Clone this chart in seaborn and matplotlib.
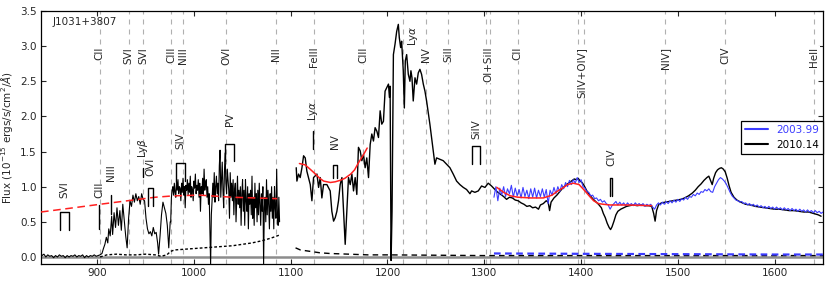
import numpy as np
import pandas as pd
import seaborn as sns
import matplotlib
matplotlib.use("Agg")
import matplotlib.pyplot as plt

# ---- data ----
# black spectrum (2010.14), far-UV part: sparse part up to 975.5 A ...
wave_a1 = [842, 843, 845, 847, 849, 851, 853, 855, 857, 859, 861, 863, 865, 867, 869, 871, 873, 875,
           877, 879, 881, 883, 885, 887, 889, 891, 893, 895, 897, 899, 901, 903, 905, 906.5, 908, 909.5,
           911, 912, 913.5, 915, 916, 917.5, 919, 920.5, 922, 923.5, 925, 926.5, 928, 929.5, 931, 932.5,
           934, 935.5, 937, 938.5, 940, 941.5, 943, 944.5, 946, 947.5, 949, 950.5, 952, 953.5, 955, 956.5,
           958, 959.5, 961, 962.5, 963.5, 965, 966.5, 968, 969.5, 971, 972.5, 974, 975.5]
flux_a1 = [0.05, 0.02, 0.04, 0.00, 0.03, 0.01, 0.02, -0.01, 0.02, 0.00, 0.03, 0.01, 0.02, -0.01, 0.02,
           0.00, 0.02, 0.01, 0.03, 0.00, 0.02, 0.01, 0.03, -0.01, 0.02, 0.00, 0.02, 0.01, 0.03, 0.01,
           0.02, 0.03, 0.05, 0.12, 0.18, 0.28, 0.20, 0.40, 0.30, 0.58, 0.32, 0.63, 0.42, 0.70, 0.45, 0.66,
           0.38, 0.75, 0.52, 0.30, 0.13, 0.55, 0.80, 0.72, 0.88, 0.78, 0.90, 0.80, 0.86, 0.75, 0.90, 0.82,
           0.80, 0.55, 0.40, 0.33, 0.36, 0.30, 0.42, 0.33, 0.35, 0.20, 0.04, 0.30, 0.60, 0.78, 0.70, 0.62,
           0.45, 0.13, 0.50]
# ... and the dense forest, sampled every 0.75 A from 976 A
wave_a2 = list(np.arange(976.0, 1088.6, 0.75))
flux_a2 = [0.50, 0.85, 0.95, 1.00, 0.88, 1.05, 0.92, 0.85, 1.08, 0.95, 1.10, 0.90, 1.00, 0.98, 0.80,
           1.05, 0.92, 1.12, 0.88, 1.00,
           0.70, 1.02, 0.95, 1.10, 0.88, 1.05, 0.92, 1.15, 0.85, 1.00, 0.95, 0.80, 1.08, 0.98, 1.18,
           0.90, 1.02, 0.95, 1.10, 0.85,
           1.05, 0.65, 1.00, 0.90, 1.12, 0.88, 1.25, 0.95, 1.05, 1.10, 0.85, 1.00, 0.75, 0.90, 0.40,
           -0.10, 0.60, 0.80, 1.05, 0.85,
           1.20, 0.78, 1.00, 1.15, 0.90, 1.05, 0.80, 1.30, 1.52, 0.85, 1.10, 1.35, 0.95, 0.70, 1.20,
           1.48, 1.05, 0.90, 1.25, 1.10,
           0.95, 0.55, 1.20, 0.85, 1.05, 0.80, 1.10, 0.60, 0.95, 1.05, 0.50, 0.85, 1.15, 0.75, 0.95,
           0.70, 1.00, 0.45, 0.90, 1.10,
           0.65, 0.95, 0.45, 1.10, 0.80, 0.65, 1.00, 0.40, 0.90, 0.75, 0.95, 0.60, 1.15, 0.55, 0.85,
           0.45, 1.05, 0.70, 0.90, 0.50,
           0.95, 0.60, 1.05, 0.75, 0.45, 0.90, 0.65, 1.00, -0.10, 0.70, 0.85, 0.50, 1.10, 0.60, 0.95,
           0.75, 0.40, 0.90, 0.65, 1.00,
           0.55, 0.85, 0.40, 1.00, 0.70, 0.55, 1.25, 0.60, 0.45, 0.85, 0.50]

# black spectrum, Ly-alpha and longward
wave_b = [1105.7, 1106.4, 1108.1, 1109.8, 1111.6, 1113.3, 1115.0, 1116.7, 1120.2, 1121.9, 1123.6,
          1127.1, 1128.8, 1130.5, 1132.2, 1133.9, 1137.4, 1140.8, 1142.5, 1144.3, 1146.0, 1147.7,
          1149.4, 1151.1, 1152.9, 1154.6, 1156.3, 1158.0, 1159.7, 1161.5, 1163.2, 1164.9, 1166.6,
          1168.3, 1170.0, 1171.8, 1173.5, 1175.2, 1176.9, 1178.6, 1180.4, 1182.1, 1183.8, 1185.5,
          1187.2, 1189.0, 1190.7, 1192.4, 1194.1, 1195.8, 1197.5, 1199.3, 1201.0, 1202.0, 1202.7,
          1203.7, 1204.7, 1206.1, 1207.8, 1209.5, 1211.2, 1212.2, 1213.6, 1214.6, 1216.3, 1217.4,
          1218.4, 1219.8, 1221.5, 1223.2, 1224.2, 1225.3, 1226.6, 1228.4, 1230.1, 1231.8, 1233.5,
          1235.2, 1237.0, 1238.7, 1240.4, 1243.8, 1247.3, 1249.0, 1250.7, 1254.2, 1257.6, 1261.0,
          1264.5, 1267.9, 1271.4, 1274.8, 1278.3, 1281.7, 1285.2, 1286.9, 1290.3, 1293.8, 1297.2,
          1300.7, 1304.1, 1307.5,
          1311, 1314, 1317, 1320, 1323, 1326, 1329, 1332, 1335, 1338, 1341, 1344, 1347, 1350, 1353,
          1356, 1358, 1361, 1364, 1366, 1367.5, 1369, 1372, 1375, 1378, 1381, 1384, 1387, 1390, 1393,
          1395, 1397, 1399, 1401, 1403, 1406, 1409, 1412, 1415, 1418, 1421, 1423, 1425, 1427, 1429,
          1430.5, 1432, 1434, 1436, 1438, 1441, 1444, 1447, 1450, 1454, 1458, 1462, 1466, 1470, 1473,
          1475, 1476.5, 1478, 1480, 1483, 1487, 1491, 1495, 1499, 1503, 1507, 1511, 1515, 1518, 1521,
          1524, 1527, 1530, 1532, 1534, 1535.5, 1537, 1539, 1541, 1543, 1545, 1547, 1549, 1551, 1553,
          1555, 1558, 1561, 1565, 1570, 1575, 1580, 1585, 1590, 1595, 1600, 1605, 1610, 1615, 1620,
          1625, 1630, 1635, 1640, 1645, 1648]
flux_b = [1.27, 1.08, 1.18, 1.13, 1.27, 1.44, 1.41, 1.22, 1.03, 0.80, 1.13, 1.18, 0.99, 1.13, 0.84,
          1.03, 1.03, 0.94, 0.65, 0.51, 0.56, 0.65, 0.80, 1.03, 1.13, 0.65, 0.18, 0.65, 1.13, 1.03,
          1.18, 0.94, 1.13, 0.89, 1.56, 1.51, 1.37, 1.46, 1.27, 1.41, 1.13, 1.60, 1.75, 1.65, 1.84,
          1.79, 1.70, 2.08, 1.89, 1.93, 2.36, 2.41, 2.46, 2.27, 2.43, -0.05, 0.65, 2.88, 3.03, 3.21,
          3.31, 3.12, 2.98, 3.07, 2.65, 2.12, 2.79, 2.88, 2.60, 2.50, 2.65, 2.55, 2.22, 2.55, 2.46,
          2.62, 2.67, 2.60, 2.46, 2.36, 2.22, 1.89, 1.51, 1.32, 1.41, 1.39, 1.37, 1.32, 1.27, 1.18,
          1.08, 1.03, 0.99, 0.96, 0.90, 0.94, 0.92, 0.94, 1.01, 0.99, 1.05, 1.01,
          0.96, 0.92, 0.89, 0.86, 0.82, 0.85, 0.84, 0.81, 0.80, 0.77, 0.75, 0.72, 0.73, 0.70, 0.71,
          0.68, 0.74, 0.76, 0.80, 0.78, 0.66, 0.78, 0.84, 0.88, 0.93, 0.98, 1.02, 1.05, 1.08, 1.11,
          1.10, 1.12, 1.08, 1.06, 1.02, 0.94, 0.88, 0.83, 0.79, 0.75, 0.70, 0.62, 0.56, 0.48, 0.42,
          0.39, 0.43, 0.51, 0.60, 0.65, 0.68, 0.70, 0.72, 0.73, 0.74, 0.73, 0.74, 0.73, 0.73, 0.72,
          0.62, 0.51, 0.66, 0.74, 0.77, 0.78, 0.79, 0.80, 0.81, 0.82, 0.84, 0.87, 0.91, 0.95, 1.00,
          1.04, 1.09, 1.13, 1.15, 1.08, 1.03, 1.12, 1.20, 1.24, 1.26, 1.27, 1.25, 1.21, 1.12, 1.01,
          0.92, 0.85, 0.81, 0.78, 0.75, 0.74, 0.72, 0.71, 0.70, 0.69, 0.68, 0.68, 0.67, 0.66, 0.66,
          0.65, 0.64, 0.64, 0.62, 0.60, 0.58]

# blue spectrum (2003.99), every 2 A
wave_c = list(range(1310, 1652, 2))
flux_c = [0.85, 1.00, 0.80, 0.98, 0.88, 1.00, 0.86, 0.97, 0.90, 1.02, 0.85, 0.98, 0.87, 0.96, 0.84,
          0.99, 0.86, 0.95, 0.83, 0.97, 0.85, 0.98, 0.84, 0.95, 0.86, 0.97, 0.85, 0.96, 0.76, 0.95,
          0.88, 0.99, 0.90, 1.00, 0.93, 1.03, 0.97, 1.06, 1.00, 1.09, 1.03, 1.10, 1.05, 1.13, 1.06,
          1.10, 1.00, 0.98, 0.93, 0.92, 0.87, 0.88, 0.83, 0.84, 0.80, 0.82, 0.78, 0.80, 0.76, 0.74,
          0.68, 0.73, 0.76, 0.79, 0.74, 0.78, 0.74, 0.77, 0.73, 0.77, 0.74, 0.76, 0.73, 0.77, 0.74,
          0.76, 0.73, 0.76, 0.72, 0.75, 0.73, 0.75, 0.71, 0.68, 0.74, 0.77, 0.74, 0.78, 0.75, 0.79,
          0.76, 0.80, 0.77, 0.81, 0.78, 0.82, 0.79, 0.83, 0.81, 0.85, 0.82, 0.86, 0.85, 0.89, 0.87,
          0.91, 0.89, 0.93, 0.92, 0.96, 0.94, 0.97, 0.93, 0.92, 1.00, 1.05, 1.10, 1.13, 1.11, 1.08,
          1.04, 0.98, 0.92, 0.87, 0.84, 0.81, 0.80, 0.78, 0.79, 0.76, 0.77, 0.74, 0.76, 0.73, 0.75,
          0.72, 0.74, 0.71, 0.73, 0.70, 0.72, 0.69, 0.72, 0.69, 0.71, 0.68, 0.71, 0.68, 0.70, 0.67,
          0.70, 0.67, 0.69, 0.66, 0.69, 0.66, 0.68, 0.65, 0.68, 0.65, 0.67, 0.64, 0.67, 0.64, 0.66,
          0.63, 0.66, 0.63, 0.65, 0.62, 0.64]

# error spectra
err_wave_a = [903, 910, 920, 930, 940, 950, 960, 966, 972, 976, 980, 990, 1000, 1010, 1020, 1030,
              1040, 1050, 1060, 1070, 1080, 1088]
err_flux_a = [0.00, 0.03, 0.04, 0.03, 0.03, 0.04, 0.03, 0.01, 0.03, 0.08, 0.10, 0.11, 0.12, 0.13,
              0.14, 0.15, 0.16, 0.18, 0.20, 0.23, 0.27, 0.31]
err_wave_b = [1105, 1110, 1120, 1130, 1140, 1160, 1180, 1200, 1250, 1300, 1400, 1500, 1600, 1650]
err_flux_b = [0.13, 0.10, 0.08, 0.06, 0.05, 0.04, 0.03, 0.03, 0.025, 0.02, 0.02, 0.02, 0.02, 0.02]
err_wave_c = [1310, 1400, 1500, 1600, 1650]
err_flux_c = [0.05, 0.045, 0.04, 0.035, 0.035]

# continuum fits
cont_wave_a = [842, 870, 903, 937, 960, 979, 1006, 1040, 1086]
cont_flux_a = [0.64, 0.69, 0.75, 0.81, 0.85, 0.87, 0.88, 0.85, 0.83]
cont_wave_b = [1109, 1115, 1120, 1124, 1130, 1134, 1141, 1146, 1151, 1156, 1162, 1166, 1170, 1175, 1179]
cont_flux_b = [1.33, 1.31, 1.25, 1.20, 1.12, 1.08, 1.06, 1.07, 1.09, 1.12, 1.18, 1.24, 1.34, 1.45, 1.55]
cont_wave_c = [1313, 1320, 1327, 1335, 1348, 1361, 1370, 1376, 1382, 1386, 1392, 1398, 1404, 1409,
               1413, 1418, 1423, 1430, 1447, 1460, 1473]
cont_flux_c = [0.99, 0.92, 0.87, 0.85, 0.84, 0.84, 0.88, 0.94, 0.99, 1.03, 1.05, 1.03, 0.94, 0.86,
               0.80, 0.76, 0.75, 0.74, 0.74, 0.735, 0.73]

# emission line identifications (dashed lines)
line_waves = [902.5, 932.5, 947.5, 976.5, 989.0, 1033.3, 1084.3, 1124.0, 1175.0, 1215.67, 1240.0,
              1262.6, 1302.2, 1305.8, 1334.5, 1396.8, 1403.5, 1486.5, 1549.0, 1640.4]
line_names = ["CII", "SVI", "SVI", "CIII", "NIII", "OVI", "NII", "FeIII", "CIII", r"Ly$\alpha$", "NV",
              "SiII", "OI+SiII", "CII", "SiIV+OIV]", "NIV]", "CIV", "HeII"]
line_label_x = [902.5, 932.5, 947.5, 976.5, 989.0, 1033.3, 1084.3, 1124.0, 1175.0, 1226.0, 1240.0,
                1262.6, 1304.0, 1334.5, 1400.0, 1486.5, 1549.0, 1640.4]
line_label_top = [2.99] * 9 + [3.29] + [2.99] * 8

# absorption markers (singlets and doublets)
abs_names = ["SVI", "CIII", "NIII", r"Ly$\beta$", "OVI", "SIV", "PV", r"Ly$\alpha$", "NV", "SiIV", "CIV"]
abs_blue = [862.0, 902.3, 914.0, 947.0, 953.0, 981.4, 1032.5, 1122.7, 1144.0, 1287.2, 1429.8]
abs_red = [871.0, 902.3, 914.0, 947.0, 958.0, 990.9, 1041.7, 1122.7, 1147.7, 1295.5, 1432.2]
abs_bottom = [0.38, 0.40, 0.61, 1.14, 0.73, 1.08, 1.37, 1.54, 1.12, 1.32, 0.87]
abs_top = [0.64, 0.74, 0.88, 1.27, 0.98, 1.34, 1.61, 1.79, 1.31, 1.58, 1.12]
abs_label_y = [0.84, 0.84, 1.08, 1.41, 1.15, 1.54, 1.86, 1.93, 1.54, 1.68, 1.29]

blue = "#3c3cff"

sns.set_style("ticks")
plt.rcParams["font.family"] = ["DejaVu Sans"]
plt.rcParams["xtick.direction"] = "in"
plt.rcParams["ytick.direction"] = "in"

fig = plt.figure(figsize=(8.3, 2.84), dpi=100)
ax = fig.add_axes([0.0494, 0.0704, 0.9422, 0.8908])

for w in line_waves:
    ax.axvline(w, color="#b0b0b0", lw=0.8, ls=(0, (4.5, 4.5)), zorder=0)
ax.axhline(0, color="0.55", lw=1.8, zorder=1)

df_a = pd.DataFrame({"wave": wave_a1 + wave_a2, "flux": flux_a1 + flux_a2})
df_b = pd.DataFrame({"wave": wave_b, "flux": flux_b})
df_c = pd.DataFrame({"wave": wave_c, "flux": flux_c})

sns.lineplot(data=df_a, x="wave", y="flux", ax=ax, color="black", lw=0.8, estimator=None, sort=False, zorder=3)
sns.lineplot(data=df_b, x="wave", y="flux", ax=ax, color="black", lw=1.0, estimator=None, sort=False, zorder=3)
sns.lineplot(data=df_c, x="wave", y="flux", ax=ax, color=blue, lw=0.8, estimator=None, sort=False, zorder=4)

sns.lineplot(x=err_wave_a, y=err_flux_a, ax=ax, color="black", lw=1.0, linestyle=(0, (2, 1.5)), estimator=None, zorder=3)
sns.lineplot(x=err_wave_b, y=err_flux_b, ax=ax, color="black", lw=1.0, linestyle=(0, (4, 3)), estimator=None, zorder=3)
sns.lineplot(x=err_wave_c, y=err_flux_c, ax=ax, color=blue, lw=1.6, linestyle=(0, (3, 2)), estimator=None, zorder=3)

sns.lineplot(x=cont_wave_a, y=cont_flux_a, ax=ax, color="#ff2020", lw=1.1, linestyle=(0, (5, 3)), estimator=None, zorder=5)
sns.lineplot(x=cont_wave_b, y=cont_flux_b, ax=ax, color="#ff2020", lw=1.1, estimator=None, zorder=5)
sns.lineplot(x=cont_wave_c, y=cont_flux_c, ax=ax, color="#ff2020", lw=1.1, estimator=None, zorder=5)

# line ID labels along the top
for name, x, top in zip(line_names, line_label_x, line_label_top):
    ax.text(x, top, name, rotation=90, ha="center", va="top", fontsize=7.5, zorder=6,
            bbox=dict(facecolor="white", edgecolor="none", pad=0.6))

# absorption markers
for name, x1, x2, yb, yt, ly in zip(abs_names, abs_blue, abs_red, abs_bottom, abs_top, abs_label_y):
    if x1 == x2:
        ax.plot([x1, x1], [yb, yt], color="black", lw=1.0, zorder=6)
    else:
        ax.plot([x1, x1, x2, x2], [yb, yt, yt, yb], color="black", lw=1.0, zorder=6)
    ax.text((x1 + x2) / 2, ly, name, rotation=90, ha="center", va="bottom", fontsize=7.5, zorder=6)

ax.text(0.015, 0.975, "J1031+3807", transform=ax.transAxes, ha="left", va="top", fontsize=7.5)

ax.set_xlim(842, 1650)
ax.set_ylim(-0.1, 3.5)
ax.set_xticks([900, 1000, 1100, 1200, 1300, 1400, 1500, 1600])
ax.set_yticks([0.0, 0.5, 1.0, 1.5, 2.0, 2.5, 3.0, 3.5])
ax.tick_params(top=True, right=True, length=3.5, width=0.8, labelsize=7.5, pad=3)
ax.set_xlabel("")
ax.set_ylabel(r"Flux (10$^{-15}$ ergs/s/cm$^2$/$\AA$)", fontsize=7.5, labelpad=4)
for s in ax.spines.values():
    s.set_linewidth(0.9)
    s.set_color("black")

h1, = ax.plot([], [], color=blue, lw=1.5, label="2003.99")
h2, = ax.plot([], [], color="black", lw=1.5, label="2010.14")
leg = ax.legend(handles=[h1, h2], loc="center right", bbox_to_anchor=(1.0, 0.5), borderaxespad=0,
                fontsize=7.5, fancybox=False, framealpha=1, edgecolor="black", handlelength=2.2)
leg.get_frame().set_linewidth(0.9)
leg.get_texts()[0].set_color(blue)
leg.get_texts()[1].set_color("black")

fig.savefig("out.png", dpi=100)
